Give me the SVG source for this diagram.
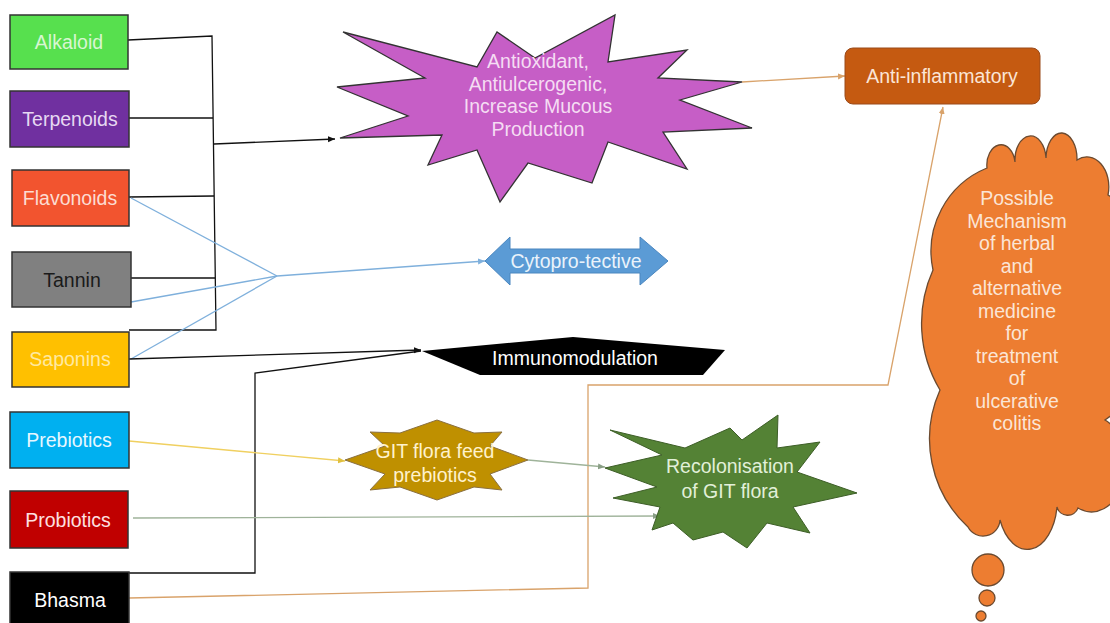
<svg xmlns="http://www.w3.org/2000/svg" width="1110" height="623" viewBox="0 0 1110 623">
<style>
text{font-family:"Liberation Sans",Arial,sans-serif;font-size:19.5px;text-anchor:middle;dominant-baseline:central}
.box{stroke:#333;stroke-width:1.5}
.ln{fill:none;stroke-width:1.3}
.k{stroke:#111}
.b{stroke:#7fb0dc}
.o{stroke:#d9a36b}
.y{stroke:#f0d060}
.g{stroke:#9fb39a}
.cl{fill:#ed7d31;stroke:#6b4a30;stroke-width:1.3}
</style>
<defs>
<marker id="ak" markerWidth="8" markerHeight="8" refX="7" refY="4" orient="auto" markerUnits="userSpaceOnUse"><path d="M0,1 L7,4 L0,7 Z" fill="#111"/></marker>
<marker id="ab" markerWidth="8" markerHeight="8" refX="7" refY="4" orient="auto" markerUnits="userSpaceOnUse"><path d="M0,1 L7,4 L0,7 Z" fill="#7fb0dc"/></marker>
<marker id="ao" markerWidth="8" markerHeight="8" refX="7" refY="4" orient="auto" markerUnits="userSpaceOnUse"><path d="M0,1 L7,4 L0,7 Z" fill="#d9a36b"/></marker>
<marker id="ay" markerWidth="8" markerHeight="8" refX="7" refY="4" orient="auto" markerUnits="userSpaceOnUse"><path d="M0,1 L7,4 L0,7 Z" fill="#e0c040"/></marker>
<marker id="ag" markerWidth="8" markerHeight="8" refX="7" refY="4" orient="auto" markerUnits="userSpaceOnUse"><path d="M0,1 L7,4 L0,7 Z" fill="#8a9f86"/></marker>
</defs>
<rect width="1110" height="623" fill="#fff"/>

<g id="connectors">
<path class="ln k" d="M128,40 L212,36 L216,330 L129,330"/>
<path class="ln k" d="M129,118 L213,118"/>
<path class="ln k" d="M129,197 L214,196"/>
<path class="ln k" d="M131,278 L215,278"/>
<path class="ln k" d="M214,144 L335,139" marker-end="url(#ak)"/>
<path class="ln b" d="M131,198 L277,276"/>
<path class="ln b" d="M131,302 L277,276"/>
<path class="ln b" d="M131,359 L277,276"/>
<path class="ln b" d="M277,276 L485,261" marker-end="url(#ab)"/>
<path class="ln k" d="M129,359 L421,350" marker-end="url(#ak)"/>
<path class="ln k" d="M129,573 L255,573 L255,373 L421,351"/>
<path class="ln o" d="M742,82 L845,76" marker-end="url(#ao)"/>
<path class="ln o" d="M129,598 L588,588 L588,385 L888,385 L943,107" marker-end="url(#ao)"/>
<path class="ln y" d="M129,441 L345,461" marker-end="url(#ay)"/>
<path class="ln g" d="M528,460 L605,467" marker-end="url(#ag)"/>
<path class="ln g" d="M133,518 L660,516" marker-end="url(#ag)"/>
</g>

<g id="alkaloid"><rect class="box" x="10" y="15" width="118" height="54" fill="#57e04e"/><text x="69" y="42" fill="#d8f6d2">Alkaloid</text></g>
<g id="terpenoids"><rect class="box" x="10" y="91" width="119" height="56" fill="#7030a0"/><text x="70" y="119" fill="#e6d8f2">Terpenoids</text></g>
<g id="flavonoids"><rect class="box" x="12" y="170" width="117" height="56" fill="#f2542f"/><text x="70" y="198" fill="#fcdcd2">Flavonoids</text></g>
<g id="tannin"><rect class="box" x="12" y="252" width="119" height="55" fill="#808080"/><text x="72" y="280" fill="#1a1a1a">Tannin</text></g>
<g id="saponins"><rect class="box" x="12" y="332" width="117" height="55" fill="#ffc000"/><text x="70" y="359" fill="#ffe9a0">Saponins</text></g>
<g id="prebiotics"><rect class="box" x="10" y="412" width="119" height="56" fill="#00b0f0"/><text x="69" y="440" fill="#e6f7ff">Prebiotics</text></g>
<g id="probiotics"><rect class="box" x="10" y="491" width="118" height="57" fill="#c00000"/><text x="68" y="520" fill="#fde0e0">Probiotics</text></g>
<g id="bhasma"><rect class="box" x="10" y="572" width="119" height="55" fill="#000"/><text x="70" y="600" fill="#fff">Bhasma</text></g>

<g id="antioxidant">
<polygon points="343,32 477,67 497,32 535,58 615,15 608,62 687,50 658,78 742,82 680,100 752,128 663,132 687,169 608,142 592,183 528,163 500,202 477,150 428,165 442,135 340,138 408,116 337,87 425,78" fill="#c65ec6" stroke="#333" stroke-width="1.3"/>
<text font-size="17.5" fill="#f5dcf3"><tspan x="538" y="61">Antioxidant,</tspan><tspan x="538" dy="22.5">Antiulcerogenic,</tspan><tspan x="538" dy="22.5">Increase Mucous</tspan><tspan x="538" dy="22.5">Production</tspan></text>
</g>

<g id="antiinflammatory"><rect x="845" y="48" width="195" height="56" rx="8" fill="#c55a11" stroke="#9a4a1a" stroke-width="1"/><text x="942" y="76" font-size="19" fill="#fbe5d6">Anti-inflammatory</text></g>

<g id="cytoprotective">
<polygon points="485,261 510,237 510,249 640,249 640,237 668,261 640,285 640,273 510,273 510,285" fill="#5b9bd5" stroke="#4a86bf" stroke-width="1"/>
<text x="576" y="261" font-size="19" fill="#eaf3fb">Cytopro-tective</text>
</g>

<g id="immunomodulation">
<polygon points="422,351 573,337 725,350 703,375 480,375" fill="#000"/>
<text x="575" y="358" font-size="19.5" fill="#fff">Immunomodulation</text>
</g>

<g id="gitflora">
<polygon points="345,460 385,446 370,432 400,433 437,420 474,433 502,432 490,446 528,460 490,474 502,490 474,487 437,500 400,487 370,490 385,474" fill="#bf9000" stroke="#8a7040" stroke-width="1"/>
<text font-size="18" fill="#fff2cc"><tspan x="435" y="451">GIT flora feed</tspan><tspan x="435" dy="24">prebiotics</tspan></text>
</g>

<g id="recolonisation">
<polygon points="605,468 662,455 610,430 685,448 730,428 742,440 778,415 777,448 820,442 797,472 857,493 793,507 810,533 767,523 747,548 723,532 693,540 673,523 652,530 660,507 613,498 657,487" fill="#548235" stroke="#3d5e27" stroke-width="1"/>
<text font-size="18.5" fill="#e2f0d9"><tspan x="730" y="466">Recolonisation</tspan><tspan x="730" dy="25">of GIT flora</tspan></text>
</g>

<g id="mechanism">
<path class="cl" d="M933,270 A90,90 0 0 1 987,168 A14,20 0 0 1 1015,162 A15.5,24 0 0 1 1046,158 A15.5,26 0 0 1 1077,160 A22,30 0 0 1 1108,195 L1116,200 L1116,412 L1105,420 A30,42 0 0 1 1078,508 A11,11 0 0 1 1057,507 A30,50 0 0 1 1000,520 A17,17 0 0 1 968,527 A120,120 0 0 1 940,390 A130,130 0 0 1 933,270 Z"/>
<circle class="cl" cx="988" cy="570" r="16"/>
<circle class="cl" cx="987" cy="598" r="8"/>
<circle class="cl" cx="981" cy="616" r="5"/>
<text font-size="18" fill="#fbe5d6"><tspan x="1017" y="198">Possible</tspan><tspan x="1017" dy="22.5">Mechanism</tspan><tspan x="1017" dy="22.5">of herbal</tspan><tspan x="1017" dy="22.5">and</tspan><tspan x="1017" dy="22.5">alternative</tspan><tspan x="1017" dy="22.5">medicine</tspan><tspan x="1017" dy="22.5">for</tspan><tspan x="1017" dy="22.5">treatment</tspan><tspan x="1017" dy="22.5">of</tspan><tspan x="1017" dy="22.5">ulcerative</tspan><tspan x="1017" dy="22.5">colitis</tspan></text>
</g>
</svg>
